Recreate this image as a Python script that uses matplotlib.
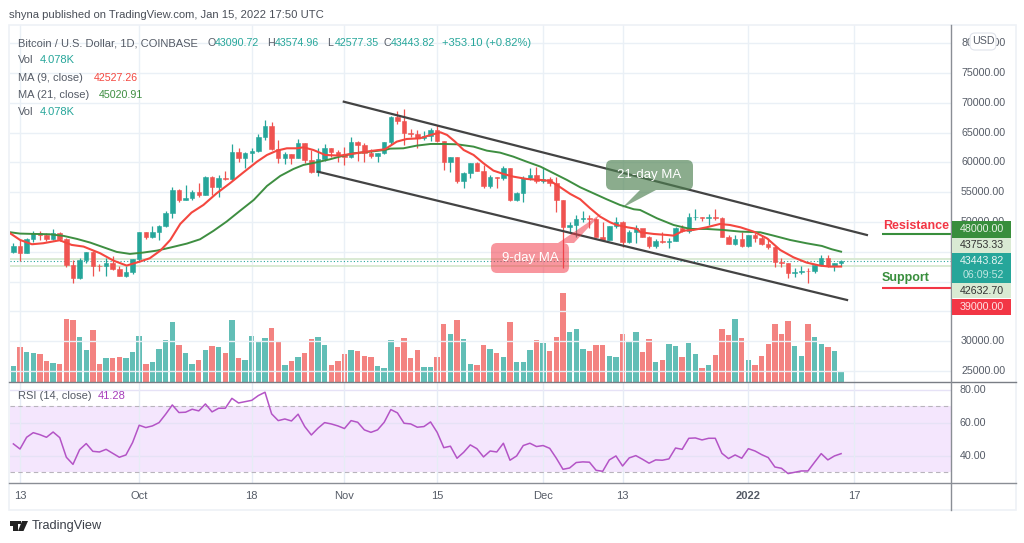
import matplotlib
matplotlib.use('Agg')
import matplotlib.pyplot as plt
from matplotlib.patches import FancyBboxPatch, Polygon, Rectangle

plt.rcParams['font.family'] = ['Liberation Sans', 'DejaVu Sans']

W, H = 1024, 543

UP = '#26A69A'
DOWN = '#EF5350'
GRID = '#EAF0F6'
GREY = '#555B66'

# Daily candles Sep 12 2021 .. Jan 15 2022
opens = [45040, 46043, 44870, 47160, 48110, 47770, 47160, 48220, 47160, 42800, 40680, 43640, 44950, 42690, 42640,
         43080, 42130, 41010, 41570, 43750, 48280, 47550, 48250, 49250, 51450, 55380, 53700, 53950, 54990, 54500,
         57610, 55940, 57340, 57200, 61700, 60800, 61580, 61970, 64320, 66110, 62200, 60690, 61420, 60800, 63200,
         60410, 58400, 60570, 62370, 61800, 61320, 60900, 63370, 62950, 61530, 61000, 61530, 63370, 67680, 66950,
         64880, 64800, 64040, 64400, 65500, 63650, 60080, 60850, 56800, 58290, 59850, 58620, 56050, 57620, 57330,
         59000, 53700, 54820, 57450, 57900, 56900, 57220, 56600, 53700, 49120, 49500, 50460, 50620, 50500, 47550,
         47000, 49340, 50070, 46700, 48390, 48950, 47550, 45980, 46820, 46650, 46880, 48950, 48550, 50800, 50850,
         50700, 50800, 50600, 47550, 46320, 47100, 46000, 47770, 47270, 46320, 45760, 43350, 43070, 41510, 41680,
         41850, 41700, 42730, 43920, 42590, 43090.72]
highs = [46460, 46990, 47250, 48450, 48500, 48160, 48800, 48350, 47350, 43640, 44030, 45000, 45100, 43000, 43920,
         44300, 42700, 42600, 43850, 48400, 48300, 49400, 49500, 51900, 55800, 55500, 56200, 55400, 56600, 57700,
         57780, 57900, 58600, 63100, 62400, 61800, 62400, 64700, 67100, 66700, 63760, 61800, 61400, 63900, 63300,
         62100, 62500, 63100, 62400, 62000, 62640, 64300, 63650, 63200, 62250, 61500, 63400, 67800, 68650, 69000,
         65550, 65400, 65200, 65700, 66300, 63650, 60900, 60970, 58450, 59850, 60100, 59570, 57900, 57600, 59460,
         59000, 55100, 57720, 59000, 59300, 59300, 57500, 57600, 53700, 50050, 51200, 51900, 51200, 50600, 50050,
         49340, 50800, 50180, 48700, 49510, 48830, 47650, 47100, 48380, 47380, 49110, 49500, 51570, 52130, 50900,
         51350, 52130, 50790, 47830, 47820, 48380, 47820, 48100, 47820, 47270, 45980, 43910, 43070, 42240, 42680,
         42240, 42900, 44470, 44470, 43190, 43574.96]
lows = [44750, 43470, 44750, 46700, 47000, 46800, 47050, 46850, 42500, 39700, 40500, 43100, 40900, 41800, 41000,
        42000, 40900, 40800, 41350, 43300, 47200, 47270, 47000, 49100, 50600, 53400, 53700, 53700, 54200, 54500,
        54540, 54150, 57000, 57000, 60100, 59000, 60000, 61800, 63800, 62000, 59960, 59700, 59700, 60700, 59850,
        58300, 57700, 60200, 60900, 60000, 59600, 60700, 60200, 60100, 60700, 60100, 61400, 63150, 66500, 62900,
        64200, 62500, 63800, 63600, 63500, 58700, 58400, 56600, 55650, 57450, 58600, 55650, 55650, 55650, 57050,
        53530, 53550, 53420, 57000, 56600, 56600, 56000, 51600, 42350, 48100, 47450, 50000, 48950, 47450, 47000,
        46900, 48950, 45870, 46550, 46550, 47500, 45590, 45590, 46430, 45590, 46870, 48380, 48220, 50340, 50230,
        49500, 50340, 47500, 46320, 46150, 45760, 45870, 46700, 46150, 45420, 42520, 42520, 40670, 40730, 41230,
        39720, 41510, 42630, 42400, 41790, 42577.35]
closes = [46043, 44870, 47160, 48110, 47770, 47160, 48220, 47160, 42800, 40680, 43640, 44950, 42690, 42640, 43080,
          42130, 41010, 41570, 43750, 48280, 47550, 48250, 49250, 51450, 55380, 53700, 53950, 54990, 54500, 57610,
          55940, 57340, 57200, 61700, 60800, 61580, 61970, 64320, 66110, 62200, 60690, 61420, 60800, 63200, 60410,
          58400, 60570, 62370, 61800, 61320, 60900, 63370, 62950, 61530, 61000, 61530, 63370, 67680, 66950, 64880,
          64800, 64040, 64400, 65500, 63650, 60080, 60850, 56800, 58290, 59850, 58620, 56050, 57620, 57330, 59000,
          53700, 54820, 57450, 57900, 56900, 57220, 56600, 53700, 49120, 49500, 50460, 50620, 50500, 47550, 47000,
          49340, 50070, 46700, 48390, 48950, 47550, 45980, 46820, 46650, 46880, 48950, 48550, 50800, 50850, 50700,
          50800, 50600, 47550, 46320, 47100, 46000, 47770, 47270, 46320, 45760, 43350, 43070, 41510, 41680, 41850,
          41700, 42730, 43920, 42590, 43090, 43443.82]
volumes = [6.0, 13.3, 11.4, 11.0, 10.8, 8.1, 7.1, 6.7, 24.1, 23.7, 17.3, 12.1, 19.8, 6.7, 9.3, 9.3, 9.7, 9.3, 11.4,
           17.7, 6.7, 7.5, 12.6, 15.9, 22.7, 14.0, 11.0, 6.7, 8.5, 12.2, 13.6, 13.2, 11.0, 23.7, 9.3, 8.5, 17.7, 15.5,
           16.9, 20.6, 15.5, 6.4, 7.9, 9.7, 11.0, 16.5, 17.3, 14.0, 6.4, 7.9, 10.8, 12.2, 11.8, 10.0, 9.7, 6.0, 5.3,
           15.9, 13.2, 16.9, 9.3, 12.2, 5.6, 5.6, 9.7, 22.0, 18.4,
           23.5, 16.5, 7.0, 6.4, 14.0, 12.4, 11.0, 9.7, 22.7, 7.5, 7.5, 12.2, 16.1, 14.7, 11.8, 17.3, 34.0, 19.1, 20.2,
           12.4, 11.8, 14.0, 14.0, 10.0, 9.7, 18.4, 15.1, 19.1, 11.4, 16.5, 7.5, 8.5, 14.4, 13.6, 9.7, 14.7, 10.8, 5.3,
           6.4, 10.4, 20.2, 18.0, 24.1, 16.9, 8.5, 6.4, 10.0, 14.4, 22.0, 18.4, 23.1, 13.6, 10.0, 22.0, 17.3, 14.4,
           13.2, 11.8, 4.078]
rsi = [47.2, 44.1, 51.2, 54.0, 52.8, 51.2, 54.4, 51.0, 39.1, 34.8, 43.7, 47.4, 42.7, 42.3, 43.9, 41.5, 39.1, 40.5,
       48.0, 58.5, 57.1, 58.1, 60.1, 65.2, 70.8, 66.2, 66.4, 68.2, 67.2, 71.4, 66.6, 68.8, 68.8, 74.8, 72.0, 72.8,
       73.6, 76.5, 78.5, 65.4, 61.3, 62.3, 61.1, 65.2, 57.7, 52.6, 56.7, 60.1, 59.3, 58.1, 56.5, 61.3, 60.3, 55.7,
       54.2, 55.7, 60.3, 68.0, 66.0, 59.7, 59.3, 57.3, 57.7, 60.5, 54.2, 44.9, 45.8, 38.5, 42.1, 46.6, 44.3, 39.3,
       42.9, 42.3,
       47.6, 37.3, 39.9, 46.2, 47.6, 45.6, 46.2, 44.5, 38.5, 31.8, 32.6, 35.9, 36.3, 36.1, 31.2, 30.6, 37.5, 39.9,
       33.8, 38.7, 40.1, 37.9, 35.5, 37.5, 37.3, 38.1, 44.7, 43.9, 50.6, 50.8, 49.6, 50.6, 50.6, 41.5, 38.3, 40.5,
       38.5, 44.3, 42.9, 40.7, 38.9, 33.2, 32.4, 29.2, 30.0, 30.8, 30.8, 36.1, 41.3, 37.5, 39.9, 41.28]

# Moving averages, read as polylines (day index, price)
ma9_days = [-0.5, 1, 2.8, 4.5, 7, 8.8, 10.6, 13.1, 15.1, 17.1, 19.1, 20.6, 22.2, 23.7, 25.2, 26.9, 28.7, 30.7, 32.7,
            34.7, 36.8, 38.3, 39.8, 41.3, 42.8, 43.8, 45.3, 47.1, 49.3, 52.4, 54.4, 56.1, 57.9, 59.4, 61.4, 63, 64.5,
            65.5, 66.7, 68, 69.5, 71, 72.5, 74, 75.5, 77.5, 79.6, 81.1, 82.6, 84.1, 85.6, 87.1, 88.6, 90.1, 91.1, 92.7,
            94.2, 94.7, 96.7, 98.7, 99.7, 101.2, 102.7, 104.7, 106.7, 108.2, 109.8, 111.8, 113.8, 115.8, 117.8, 119.8,
            121.8, 123.3, 125]
ma9 = [48112, 46994, 46267, 46435, 46938, 46155, 45876, 44758, 43528, 42690, 43360, 43920, 45205, 46994, 49677, 51577,
       52863, 54820, 56497, 58286, 60130, 61248, 61975, 62367, 62367, 62534, 62087, 61248, 61137, 61640, 61975, 62199,
       63485, 63932, 64043, 64603, 65050, 64603, 63485, 62087, 61248, 59851, 58621, 58062, 57615, 57224, 57056, 56888,
       55826, 54708, 53814, 52305, 50907, 49957, 49510, 49118, 48839, 48273, 47993, 47825, 47713, 48552, 48664, 49111,
       49670, 49502, 49111, 48384, 47266, 45310, 44080, 43186, 42683, 42515, 42527.26]
ma21_days = [-0.5, 1, 3, 5.5, 7.6, 9.6, 11.6, 13.6, 15.6, 17.6, 19.6, 21.7, 23.7, 26.2, 28.2, 30.2, 32.2, 34.2, 36.3,
             38.3, 40.3, 42.3, 43.8, 45.8, 47.8, 49.3, 51.4, 53.9, 56.1, 56.9, 58.9, 60.9, 63, 65, 67, 69.5, 71.5, 73.5,
             75.5, 77.5, 79.6, 81.6, 83.6, 85.6, 87.6, 89.6, 91.6, 93.7, 94.65, 97.2, 99.7, 102.2, 104.7, 107.2, 109.8,
             112.8, 114.8, 117.3, 119.8, 122.1, 123.6, 125]
ma21 = [48280, 48056, 48000, 47944, 47665, 47161, 46546, 45764, 44981, 44646, 44870, 45205, 45708, 46379, 47105, 48503,
        50069, 51857, 53702, 56050, 57727, 58900, 59572, 60019, 60522, 60969, 61528, 61808, 62087, 62311, 62367, 62814,
        63093, 63093, 63037, 62646, 61975, 61640, 60969, 60130, 59292, 58174, 57056, 55826, 54820, 53814, 52864, 52137,
        52018, 50620, 49502, 48832, 48832, 48664, 48384, 48273, 47713, 46987, 46428, 45981, 45422, 45020.91]

# Hand drawn channel on the chart: (day, price) at both ends
upper_days = [49.9, 128.9]
upper_prices = [70186, 47819]
lower_days = [46.0, 125.9]
lower_prices = [58440, 36912]

tick_days = [1, 19, 36, 50, 64, 80, 92, 111, 127]
tick_labels = ['13', 'Oct', '18', 'Nov', '15', 'Dec', '13', '2022', '17']
price_ticks = [25000, 30000, 35000, 40000, 45000, 50000, 55000, 60000, 65000, 70000, 75000, 80000]
price_labels = [25000, 30000, 50000, 55000, 60000, 65000, 70000, 75000, 80000]
rsi_ticks = [40, 60, 80]

RESISTANCE = 48000
SUPPORT = 39000
LEVEL_HI = 43753.33
LEVEL_LO = 42632.70
LAST = 43443.82

days = list(range(len(closes)))


def px_axes(left, top, right, bottom):
    return fig.add_axes([left / W, 1 - bottom / H, (right - left) / W, (bottom - top) / H])


fig = plt.figure(figsize=(W / 100, H / 100), dpi=100, facecolor='white')

# price pane
ax = px_axes(10, 25, 951, 382)
ax.set_xlim(-0.51, 141.6)
ax.set_ylim(23152, 83057)
for t in price_ticks:
    ax.axhline(t, color=GRID, lw=1, zorder=0)
for d in tick_days:
    ax.axvline(d, color=GRID, lw=1, zorder=0)

ax.hlines([LEVEL_HI, LEVEL_LO], -0.51, 141.6, color='#D9EAD3', lw=1.4, zorder=1)
ax.axhline(LAST, color=UP, lw=0.8, ls=(0, (1, 2)), zorder=1)

# volume sits at the bottom of the price pane
vol = ax.twinx()
vol.set_ylim(0, 136)
vol.set_zorder(0)
ax.set_zorder(1)
ax.patch.set_visible(False)
colors = [UP if c >= o else DOWN for o, c in zip(opens, closes)]
vol.bar(days, volumes, width=0.82, color=colors, alpha=0.72, lw=0)
vol.set_yticks([])
for sp in vol.spines.values():
    sp.set_visible(False)

ax.vlines(days, lows, highs, color=colors, lw=0.9, zorder=3)
ax.bar(days, [abs(c - o) for o, c in zip(opens, closes)], bottom=[min(o, c) for o, c in zip(opens, closes)],
       width=0.68, color=colors, edgecolor=colors, lw=0.4, zorder=4)

ax.plot(upper_days, upper_prices, color='#434343', lw=1.6, zorder=5)
ax.plot(lower_days, lower_prices, color='#434343', lw=1.6, zorder=5)
ax.plot(ma21_days, ma21, color='#3E8E41', lw=1.4, zorder=6)
ax.plot(ma9_days, ma9, color='#F4473F', lw=1.5, zorder=6)

ax.hlines(RESISTANCE, 131.2, 141.6, color='#388E3C', lw=1.5, zorder=5)
ax.hlines(SUPPORT, 131.2, 141.6, color='#F23645', lw=1.5, zorder=5)

ax.set_xticks([])
ax.set_yticks([])
for sp in ax.spines.values():
    sp.set_visible(False)

# RSI pane
ax_rsi = px_axes(10, 383, 951, 483)
ax_rsi.set_xlim(-0.51, 141.6)
ax_rsi.set_ylim(23.5, 84.1)
ax_rsi.axhspan(30, 70, color='#F4E6FD', lw=0, zorder=0)
for t in rsi_ticks:
    ax_rsi.axhline(t, color='#E6E2F6', lw=1, zorder=1)
for d in tick_days:
    ax_rsi.axvline(d, color='#E6ECF5', lw=1, zorder=1)
ax_rsi.axhline(70, color='#B8B4BC', lw=0.8, ls=(0, (4, 3)), zorder=2)
ax_rsi.axhline(30, color='#B8B4BC', lw=0.8, ls=(0, (4, 3)), zorder=2)
ax_rsi.plot(days, rsi, color='#B454C6', lw=1.1, zorder=3)
ax_rsi.set_xticks([])
ax_rsi.set_yticks([])
for sp in ax_rsi.spines.values():
    sp.set_visible(False)

# pixel overlay for frame, labels, callouts
ov = fig.add_axes([0, 0, 1, 1], zorder=10)
ov.set_xlim(0, W)
ov.set_ylim(H, 0)
ov.axis('off')
ov.patch.set_visible(False)

ov.add_patch(Rectangle((9, 25), 1007, 485, fc='none', ec='#EEF1F6', lw=1.2))
ov.plot([9, 1016], [382, 382], color='#7A7E85', lw=1)
ov.plot([9, 1016], [483, 483], color='#8A8E95', lw=1)
ov.plot([951, 951], [25, 510], color='#8A8E95', lw=1)

FS = 7.7
LEG = 8.0


def txt(x, y, s, color=GREY, fs=FS, **kw):
    kw.setdefault('va', 'center')
    kw.setdefault('ha', 'left')
    ov.text(x, y, s, color=color, fontsize=fs, **kw)


txt(9, 15, 'shyna published on TradingView.com, Jan 15, 2022 17:50 UTC', color='#4A4F58', fs=8.15)

txt(18, 43, 'Bitcoin / U.S. Dollar, 1D, COINBASE', fs=LEG)
for x, label, value in [(207, 'O', '43090.72'), (267, 'H', '43574.96'), (327, 'L', '42577.35'), (383, 'C', '43443.82')]:
    txt(x, 43, label)
    txt(x + 8, 43, value, color=UP)
txt(442, 43, '+353.10 (+0.82%)', color=UP, fs=LEG)
txt(18, 60, 'Vol', fs=LEG)
txt(40, 60, '4.078K', color=UP, fs=LEG)
txt(18, 78, 'MA (9, close)', fs=LEG)
txt(94, 78, '42527.26', color='#F4473F')
txt(18, 95, 'MA (21, close)', fs=LEG)
txt(99, 95, '45020.91', color='#3E8E41')
txt(18, 112, 'Vol', fs=LEG)
txt(40, 112, '4.078K', color=UP, fs=LEG)
txt(18, 396, 'RSI (14, close)', fs=LEG)
txt(98, 396, '41.28', color='#A63DBB', fs=LEG)

# axis tick labels
for t in price_labels:
    txt(961, 222 - (t - 50000) / 167.8, '%.2f' % t)
for t in rsi_ticks:
    txt(960, 406.3 + (70 - t) * 1.65, '%.2f' % t)
for d, label in zip(tick_days, tick_labels):
    weight = 'bold' if label == '2022' else 'normal'
    txt(13.4 + d * 6.62, 496, label, ha='center', fontweight=weight, fs=8.0)

# last-value boxes on the price axis
boxes = [(221, 238, '#388E3C', '48000.00', '#E8F2E6'),
         (238, 253, '#D9EAD3', '43753.33', '#333333'),
         (253, 283, UP, None, None),
         (283, 298, '#D9EAD3', '42632.70', '#333333'),
         (299, 315, '#F23645', '39000.00', '#FFE3E5')]
for top, bottom, face, label, col in boxes:
    ov.add_patch(Rectangle((952, top), 59, bottom - top, fc=face, ec='none', zorder=3))
    if label:
        txt(1004, (top + bottom) / 2, label, color=col, ha='right', zorder=4)
txt(1004, 261, '43443.82', color='#E8F5F3', ha='right', zorder=4)
txt(1004, 275, '06:09:52', color='#BFE6E1', ha='right', zorder=4)

ov.add_patch(FancyBboxPatch((970, 33), 26, 17, boxstyle='round,pad=0,rounding_size=5', fc='white',
                            ec='#E0E3EB', lw=0.8, zorder=3))
txt(983, 41.5, 'USD', ha='center', zorder=4)

# level labels
txt(883, 226, 'Resistance', color='#F23645', fs=9.0, fontweight='bold')
txt(882, 278, 'Support', color='#388E3C', fs=9.0, fontweight='bold')

# callouts
CALL_G = '#4F8152'
ov.add_patch(FancyBboxPatch((606, 160), 87, 30, boxstyle='round,pad=0,rounding_size=6', fc=CALL_G, ec='none',
                            alpha=0.66, zorder=3))
ov.add_patch(Polygon([(640, 190), (656, 190), (622, 208)], closed=True, fc=CALL_G, ec='none', alpha=0.66, zorder=3))
txt(649, 175, '21-day MA', color='white', fs=9.5, ha='center', zorder=4)

CALL_R = '#F23645'
ov.add_patch(FancyBboxPatch((491, 243), 78, 30, boxstyle='round,pad=0,rounding_size=6', fc=CALL_R, ec='none',
                            alpha=0.52, zorder=3))
ov.add_patch(Polygon([(558, 243), (574, 243), (602, 213)], closed=True, fc=CALL_R, ec='none', alpha=0.52, zorder=3))
txt(530, 258, '9-day MA', color='white', fs=9.5, ha='center', zorder=4)

# TradingView logo
ov.add_patch(Polygon([(9.5, 521), (17.5, 521), (17.5, 531), (13, 531), (13, 525.5), (9.5, 525.5)], closed=True,
                     fc='#222222', ec='none'))
ov.add_patch(Polygon([(22, 521), (28, 521), (23.5, 531), (18, 531)], closed=True, fc='#222222', ec='none'))
ov.add_patch(Rectangle((18, 521), 2.6, 3, fc='#222222', ec='none'))
txt(32, 526.5, 'TradingView', color='#3A3F48', fs=9.2)

fig.savefig('out.png', dpi=100)
